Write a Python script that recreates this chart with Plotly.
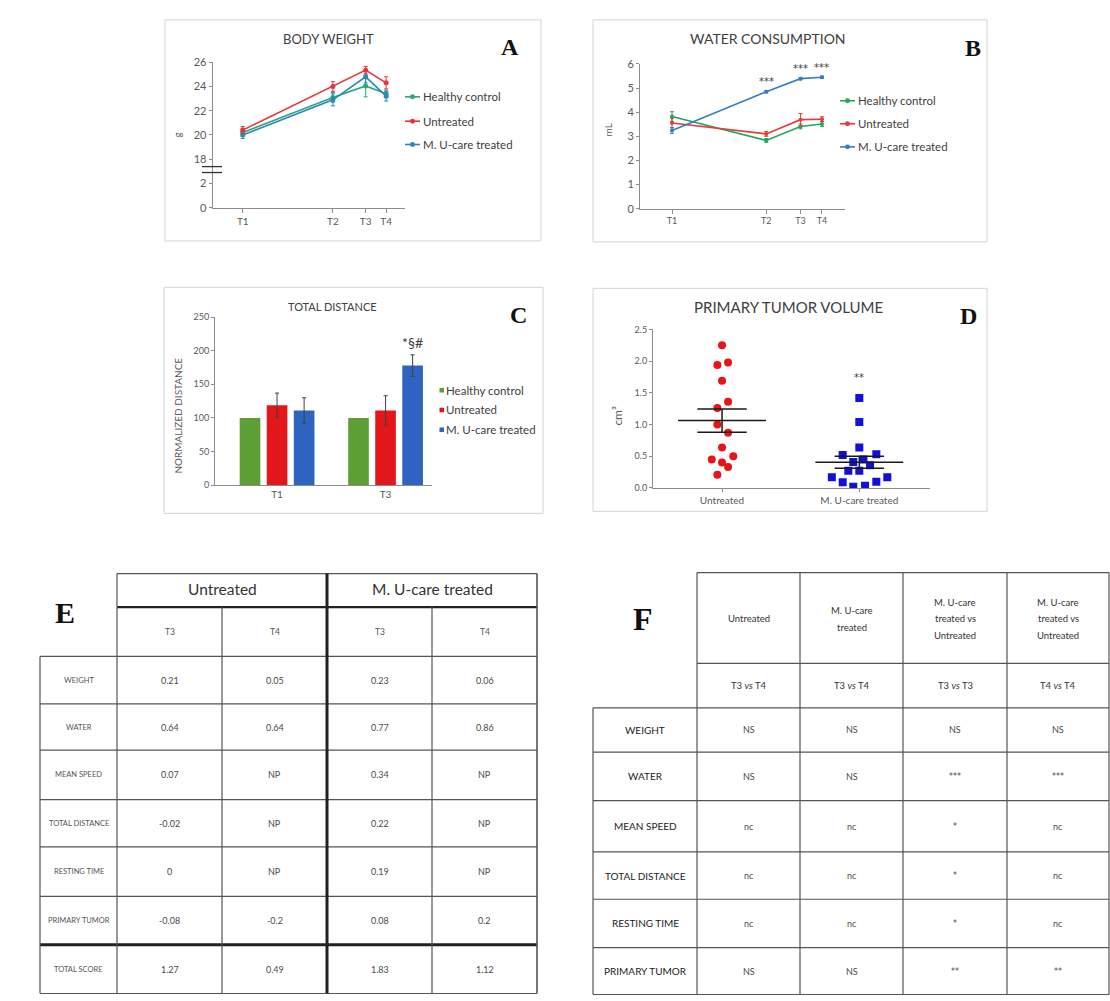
import numpy as np
import plotly.graph_objects as go

W, H = 1110, 1001
FONT = "Lato"
SERIF = "Liberation Serif"
STARFONT = "DejaVu Sans"


def px(x):
    return x / W


def py(y):
    return 1 - y / H


# ---------------- data ----------------
groups = ["Healthy control", "Untreated", "M. U-care treated"]
time_labels = ["T1", "T2", "T3", "T4"]
time_days = [0, 22, 30, 35]

# A - body weight (g)
weight_hc = [20.2, 23.1, 24.05, 23.4]
weight_hc_err = [0.3, 0.4, 0.9, 0.3]
weight_un = [20.4, 24.0, 25.35, 24.3]
weight_un_err = [0.3, 0.4, 0.3, 0.5]
weight_mu = [20.0, 22.9, 24.8, 23.2]
weight_mu_err = [0.3, 0.5, 0.5, 0.4]
weight_ticks = [0, 2, 18, 20, 22, 24, 26]

# B - water consumption (mL)
water_hc = [3.82, 2.83, 3.41, 3.51]
water_hc_err = [0.2, 0.08, 0.1, 0.1]
water_un = [3.55, 3.1, 3.69, 3.71]
water_un_err = [0.2, 0.1, 0.25, 0.1]
water_mu = [3.24, 4.85, 5.39, 5.45]
water_mu_err = [0.12, 0.05, 0.05, 0.05]
water_sig = ["", "***", "***", "***"]

# C - total distance (normalized)
dist_times = ["T1", "T3"]
dist_hc = [100, 100]
dist_un = [119, 111]
dist_un_err = [18, 22]
dist_mu = [111, 178]
dist_mu_err = [19, 16]
dist_sig = ["", "*§#"]

# D - primary tumor volume (cm3)
tumor_groups = ["Untreated", "M. U-care treated"]
tumor_un = [2.25, 1.94, 1.98, 1.69, 1.36, 1.26, 1.00, 0.87, 0.64, 0.50, 0.45, 0.40, 0.33, 0.21]
tumor_un_jit = [0, -0.034, 0.044, 0, 0.044, -0.034, -0.034, 0.044, 0, 0.082, -0.075, 0, 0.044, -0.034]
tumor_mu = [1.42, 1.04, 0.64, 0.52, 0.53, 0.41, 0.45, 0.36, 0.27, 0.27, 0.17, 0.17, 0.09, 0.10, 0.02, 0.035]
tumor_mu_jit = [0, 0, 0, -0.121, 0.124, -0.044, 0.03, 0.078, -0.08, 0, -0.2, 0.204, -0.121, 0.124, -0.044, 0.042]
tumor_sig = ["", "**"]

# E - score table
E_groups = ["Untreated", "M. U-care treated"]
E_times = ["T3", "T4", "T3", "T4"]
E_rows = ["WEIGHT", "WATER", "MEAN SPEED", "TOTAL DISTANCE", "RESTING TIME", "PRIMARY TUMOR", "TOTAL SCORE"]
E_un_T3 = ["0.21", "0.64", "0.07", "-0.02", "0", "-0.08", "1.27"]
E_un_T4 = ["0.05", "0.64", "NP", "NP", "NP", "-0.2", "0.49"]
E_mu_T3 = ["0.23", "0.77", "0.34", "0.22", "0.19", "0.08", "1.83"]
E_mu_T4 = ["0.06", "0.86", "NP", "NP", "NP", "0.2", "1.12"]

# F - statistics table
F_headers = ["Untreated", "M. U-care<br>treated", "M. U-care<br>treated vs<br>Untreated", "M. U-care<br>treated vs<br>Untreated"]
F_comparisons = ["T3 <i>vs</i> T4", "T3 <i>vs</i> T4", "T3 <i>vs</i> T3", "T4 <i>vs</i> T4"]
F_rows = ["WEIGHT", "WATER", "MEAN SPEED", "TOTAL DISTANCE", "RESTING TIME", "PRIMARY TUMOR"]
F_un = ["NS", "NS", "nc", "nc", "nc", "NS"]
F_mu = ["NS", "NS", "nc", "nc", "nc", "NS"]
F_mu_vs_un_T3 = ["NS", "***", "*", "*", "*", "**"]
F_mu_vs_un_T4 = ["NS", "***", "nc", "nc", "nc", "**"]

# ---------------- styles ----------------
A_colors = ["#2aa77f", "#e8333a", "#2b88b8"]
B_colors = ["#22a559", "#e53b3b", "#3a7cc4"]
C_colors = ["#5d9e35", "#e3161b", "#2f63c2"]
TICK = dict(size=10, color="#595959", family=FONT)

fig = go.Figure()


def tw(v):  # broken y axis of panel A
    return v / 2 if v <= 2 else 2 + (v - 18) / 2


# ---- A ----
A_series = [(weight_hc, weight_hc_err), (weight_un, weight_un_err), (weight_mu, weight_mu_err)]
for i in [0, 2, 1]:
    vals, errs = A_series[i]
    fig.add_trace(go.Scatter(
        x=time_days, y=[tw(v) for v in vals], name=groups[i], mode="lines+markers",
        line=dict(color=A_colors[i], width=1.6), marker=dict(color=A_colors[i], size=5),
        error_y=dict(type="data", array=[e / 2 for e in errs], color=A_colors[i], thickness=1, width=2),
        xaxis="x", yaxis="y", showlegend=False))

# ---- B ----
B_series = [(water_hc, water_hc_err), (water_un, water_un_err), (water_mu, water_mu_err)]
for i in [0, 1, 2]:
    vals, errs = B_series[i]
    fig.add_trace(go.Scatter(
        x=time_days, y=vals, name=groups[i], mode="lines+markers",
        line=dict(color=B_colors[i], width=1.6), marker=dict(color=B_colors[i], size=4),
        error_y=dict(type="data", array=errs, color=B_colors[i], thickness=1, width=2),
        xaxis="x2", yaxis="y2", showlegend=False))

# ---- C ----
C_series = [(dist_hc, None), (dist_un, dist_un_err), (dist_mu, dist_mu_err)]
for i in range(3):
    vals, errs = C_series[i]
    fig.add_trace(go.Bar(
        x=list(range(len(dist_times))), y=vals, name=groups[i], marker=dict(color=C_colors[i], line=dict(width=0)),
        error_y=(dict(type="data", array=errs, color="#404040", thickness=1, width=2) if errs else None),
        xaxis="x3", yaxis="y3", showlegend=False))

# ---- D ----
D_series = [(tumor_un, tumor_un_jit, "circle", "#e8141a"), (tumor_mu, tumor_mu_jit, "square", "#1010d8")]
for ci, (vals, jit, sym, col) in enumerate(D_series):
    fig.add_trace(go.Scatter(
        x=[ci + j for j in jit], y=vals, mode="markers", name=tumor_groups[ci],
        marker=dict(symbol=sym, color=col, size=8, line=dict(width=0)),
        xaxis="x4", yaxis="y4", showlegend=False))
    m = float(np.mean(vals))
    s = float(np.std(vals, ddof=1) / np.sqrt(len(vals)))
    for xs, ys in [([ci - 0.32, ci + 0.32], [m, m]),
                   ([ci - 0.18, ci + 0.18], [m + s, m + s]),
                   ([ci - 0.18, ci + 0.18], [m - s, m - s]),
                   ([ci, ci], [m - s, m + s])]:
        fig.add_trace(go.Scatter(x=xs, y=ys, mode="lines", line=dict(color="#1a1a1a", width=1.5),
                                 xaxis="x4", yaxis="y4", showlegend=False, hoverinfo="skip"))

shapes = []
annotations = []


def ann(x, y, text, size, color="#404040", family=FONT, xanchor="center", yanchor="middle", angle=0, bold=False):
    if bold:
        text = "<b>" + text + "</b>"
    annotations.append(dict(x=px(x), y=py(y), xref="paper", yref="paper", text=text, showarrow=False,
                            xanchor=xanchor, yanchor=yanchor, textangle=angle,
                            font=dict(size=size, color=color, family=family)))


def line(x0, y0, x1, y1, color="#555555", width=1.2):
    shapes.append(dict(type="line", xref="paper", yref="paper", x0=px(x0), y0=py(y0), x1=px(x1), y1=py(y1),
                       line=dict(color=color, width=width)))


# panel boxes
for (x0, y0, x1, y1) in [(165, 13, 541, 237), (593, 13, 987, 238), (164, 284, 543, 513), (593, 285, 987, 511)]:
    shapes.append(dict(type="rect", xref="paper", yref="paper", x0=px(x0), y0=py(y0), x1=px(x1), y1=py(y1),
                       line=dict(color="#d4d4d4", width=1)))

# axis break marks on A
line(202, 161.7, 222, 161.7, color="#333333", width=1.3)
line(202, 167.7, 222, 167.7, color="#333333", width=1.3)

# titles and letters
ann(328, 32, "BODY WEIGHT", 13)
ann(768, 32, "WATER CONSUMPTION", 14)
ann(332, 303, "TOTAL DISTANCE", 11)
ann(788, 304, "PRIMARY TUMOR VOLUME", 15)
for (x, y, t, s) in [(510, 41, "A", 24), (973, 42, "B", 24), (518, 312, "C", 24), (968, 313, "D", 24),
                     (65, 613, "E", 30), (643, 620, "F", 32)]:
    ann(x, y, t, s, color="#111111", family=SERIF, bold=True)

# axis titles
ann(177, 130, "g", 9, color="#595959", angle=-90)
ann(608, 125, "mL", 10, color="#595959", angle=-90)
ann(178, 414, "NORMALIZED DISTANCE", 10, color="#595959", angle=-90)
ann(618, 414, "cm³", 12, color="#595959", angle=-90)


# manual legends
def line_legend(x0, ys, colors):
    for name, y, col in zip(groups, ys, colors):
        line(x0, y, x0 + 15, y, color=col, width=1.6)
        shapes.append(dict(type="circle", xref="paper", yref="paper", x0=px(x0 + 5), x1=px(x0 + 10),
                           y0=py(y - 2.5), y1=py(y + 2.5), fillcolor=col, line=dict(width=0)))
        ann(x0 + 16, y, name, 11.5, color="#404040", xanchor="left")


line_legend(405, [91, 115.7, 139.3], A_colors)
line_legend(840, [95, 118.3, 141.7], B_colors)
for name, y, col in zip(groups, [388.3, 408.3, 428.3], C_colors):
    shapes.append(dict(type="rect", xref="paper", yref="paper", x0=px(439.5), x1=px(444),
                       y0=py(y - 2.3), y1=py(y + 2.3), fillcolor=col, line=dict(width=0)))
    ann(444, y, name, 11.5, color="#404040", xanchor="left")

# significance marks
for d, v, s in zip(time_days, water_mu, water_sig):
    if s:
        annotations.append(dict(x=d, y=v + 0.42, xref="x2", yref="y2", text=s, showarrow=False,
                                font=dict(size=10, color="#404040", family=STARFONT)))
for i, (v, e, s) in enumerate(zip(dist_mu, dist_mu_err, dist_sig)):
    if s:
        annotations.append(dict(x=i + 0.249, y=v + e + 2, xref="x3", yref="y3", text=s, showarrow=False,
                                yanchor="bottom", font=dict(size=14, color="#404040", family=FONT)))
for i, s in enumerate(tumor_sig):
    if s:
        vals = [tumor_un, tumor_mu][i]
        annotations.append(dict(x=i, y=max(vals) + 0.32, xref="x4", yref="y4", text=s, showarrow=False,
                                font=dict(size=10, color="#404040", family=STARFONT)))

# ---------------- table E ----------------
E_cols = [40, 117, 222, 327, 432, 537]
E_ys = [574, 608, 658, 706, 753, 803, 851, 901, 950, 999.5]
THIN, THICK, LC, LCK = 1.2, 3, "#555555", "#222222"
line(E_cols[1], E_ys[0], E_cols[5], E_ys[0], LC, THIN)
line(E_cols[1], E_ys[1], E_cols[5], E_ys[1], LCK, 2.4)
for y in E_ys[2:]:
    thick = (y == E_ys[-2])
    line(E_cols[0], y, E_cols[5], y, LCK if thick else LC, THICK if thick else THIN)
line(E_cols[0], E_ys[2], E_cols[0], E_ys[-1], LC, THIN)
line(E_cols[1], E_ys[0], E_cols[1], E_ys[-1], LC, THIN)
line(E_cols[2], E_ys[1], E_cols[2], E_ys[-1], LC, THIN)
line(E_cols[3], E_ys[0], E_cols[3], E_ys[-1], LCK, THICK)
line(E_cols[4], E_ys[1], E_cols[4], E_ys[-1], LC, THIN)
line(E_cols[5], E_ys[0], E_cols[5], E_ys[-1], LC, 1.6)
for g, name in enumerate(E_groups):
    ann((E_cols[1 + 2 * g] + E_cols[3 + 2 * g]) / 2, (E_ys[0] + E_ys[1]) / 2 - 1, name, 15.5, color="#333333")
for c, t in enumerate(E_times):
    ann((E_cols[1 + c] + E_cols[2 + c]) / 2, (E_ys[1] + E_ys[2]) / 2, t, 8.5, color="#555555")
E_cols_vals = [E_un_T3, E_un_T4, E_mu_T3, E_mu_T4]
for r, rname in enumerate(E_rows):
    yc = (E_ys[2 + r] + E_ys[3 + r]) / 2
    ann((E_cols[0] + E_cols[1]) / 2, yc, rname, 7.5, color="#555555")
    for c, col in enumerate(E_cols_vals):
        ann((E_cols[1 + c] + E_cols[2 + c]) / 2, yc, col[r], 9, color="#4a4a4a")

# ---------------- table F ----------------
F_cols = [593, 697, 800, 903, 1007, 1109]
F_ys = [573, 665, 710, 755, 804, 856, 904, 953, 1000.5]
line(F_cols[1], F_ys[0], F_cols[5], F_ys[0], LC, THIN)
line(F_cols[1], F_ys[1], F_cols[5], F_ys[1], LC, THIN)
for y in F_ys[2:]:
    line(F_cols[0], y, F_cols[5], y, LC, THIN)
line(F_cols[0], F_ys[2], F_cols[0], F_ys[-1], LC, THIN)
for x in F_cols[1:]:
    line(x, F_ys[0], x, F_ys[-1], LC, THIN)
for c, h in enumerate(F_headers):
    parts = h.split("<br>")
    xc = (F_cols[1 + c] + F_cols[2 + c]) / 2
    yc = (F_ys[0] + F_ys[1]) / 2 + 1
    for k, p in enumerate(parts):
        ann(xc, yc + (k - (len(parts) - 1) / 2) * 17, p, 9.5, color="#333333")
for c, t in enumerate(F_comparisons):
    ann((F_cols[1 + c] + F_cols[2 + c]) / 2, (F_ys[1] + F_ys[2]) / 2, t, 9.5, color="#333333")
F_cols_vals = [F_un, F_mu, F_mu_vs_un_T3, F_mu_vs_un_T4]
for r, rname in enumerate(F_rows):
    yc = (F_ys[2 + r] + F_ys[3 + r]) / 2
    ann((F_cols[0] + F_cols[1]) / 2, yc, rname, 10, color="#222222")
    for c, col in enumerate(F_cols_vals):
        v = col[r]
        if v.startswith("*"):
            ann((F_cols[1 + c] + F_cols[2 + c]) / 2, yc, v, 8, color="#4a4a4a", family=STARFONT)
        else:
            ann((F_cols[1 + c] + F_cols[2 + c]) / 2, yc, v, 9, color="#4a4a4a")

# ---------------- axes ----------------
base = dict(showline=True, linecolor="#8c8c8c", linewidth=1, showgrid=False, zeroline=False,
            ticks="outside", tickcolor="#8c8c8c", ticklen=3, tickfont=TICK, fixedrange=True)

fig.update_layout(
    width=W, height=H, margin=dict(l=0, r=0, t=0, b=0),
    paper_bgcolor="white", plot_bgcolor="rgba(0,0,0,0)",
    font=dict(family=FONT), showlegend=False,
    barmode="group", bargap=0.252, bargroupgap=0.237,
    xaxis=dict(base, domain=[px(212.7), px(405)], range=[-7.33, 39.6], tickvals=time_days,
               ticktext=time_labels, anchor="y", ticklen=4),
    yaxis=dict(base, domain=[py(203.3), py(56)], range=[0, 6], tickvals=[tw(v) for v in weight_ticks],
               ticktext=[str(v) for v in weight_ticks], anchor="x", tickfont=dict(TICK, size=11)),
    xaxis2=dict(base, domain=[px(640), px(845)], range=[-7.47, 40.37], tickvals=time_days,
                ticktext=time_labels, anchor="y2", ticklen=4, tickfont=dict(TICK, size=9)),
    yaxis2=dict(base, domain=[py(204.3), py(57.7)], range=[0, 6], dtick=1, anchor="x2",
                tickfont=dict(TICK, size=11)),
    xaxis3=dict(base, domain=[px(215), px(432)], range=[-0.572, 1.428], tickvals=[0, 1],
                ticktext=dist_times, anchor="y3", ticks=""),
    yaxis3=dict(base, domain=[py(484.3), py(314.3)], range=[0, 250], dtick=50, anchor="x3",
                tickfont=dict(TICK, size=9)),
    xaxis4=dict(base, domain=[px(653), px(930)], range=[-0.503, 1.515], tickvals=[0, 1],
                ticktext=tumor_groups, anchor="y4", tickfont=dict(TICK, size=10)),
    yaxis4=dict(base, domain=[py(487.3), py(326.7)], range=[0, 2.5], dtick=0.5, tickformat=".1f",
                anchor="x4", tickfont=dict(TICK, size=9)),
    shapes=shapes, annotations=annotations,
)

fig.write_html("out.html", config={"displayModeBar": False},
               post_script="document.body.style.margin='0';document.body.style.overflow='hidden';")
